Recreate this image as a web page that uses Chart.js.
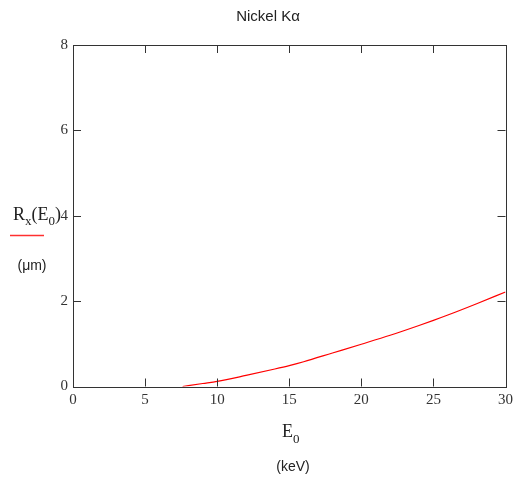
<!DOCTYPE html>
<html><head><meta charset="utf-8">
<script src="https://cdn.jsdelivr.net/npm/chart.js@4"></script>
<style>html,body{margin:0;padding:0;background:#fff}#wrap{width:518px;height:482px}</style>
</head><body><div id="wrap"><canvas id="c" width="518" height="482"></canvas></div>
<script>
const titleText = "Nickel Kα";
const energyKeV = [7.6, 8, 9, 10, 12, 14, 15, 16, 18, 20, 22, 24, 25, 26, 28, 30];
const rangeMicron = [0, 0.02, 0.07, 0.12, 0.26, 0.41, 0.49, 0.58, 0.785, 0.99, 1.20, 1.43, 1.55, 1.675, 1.94, 2.215];
const xTicks = [0, 5, 10, 15, 20, 25, 30];
const yTicks = [0, 2, 4, 6, 8];

const serif = "'Liberation Serif', 'DejaVu Serif', serif";
const sans = "'Liberation Sans', Arial, sans-serif";

const framePlugin = {
  id: 'frame',
  afterDraw(chart) {
    const ctx = chart.ctx, a = chart.chartArea;
    const xs = chart.scales.x, ys = chart.scales.y;
    ctx.save();
    ctx.strokeStyle = '#333';
    ctx.lineWidth = 1;
    ctx.strokeRect(Math.round(a.left) + 0.5, Math.round(a.top) + 0.5, Math.round(a.right - a.left), Math.round(a.bottom - a.top));
    const L = 8;
    ctx.beginPath();
    xTicks.forEach(v => {
      if (v === xTicks[0] || v === xTicks[xTicks.length - 1]) return;
      const px = Math.round(xs.getPixelForValue(v)) + 0.5;
      ctx.moveTo(px, a.bottom); ctx.lineTo(px, a.bottom - L);
      ctx.moveTo(px, a.top); ctx.lineTo(px, a.top + L);
    });
    yTicks.forEach(v => {
      if (v === yTicks[0] || v === yTicks[yTicks.length - 1]) return;
      const py = Math.round(ys.getPixelForValue(v)) + 0.5;
      ctx.moveTo(a.left, py); ctx.lineTo(a.left + L, py);
      ctx.moveTo(a.right, py); ctx.lineTo(a.right - L, py);
    });
    ctx.stroke();

    // title
    ctx.fillStyle = '#222';
    ctx.font = "15px " + sans;
    ctx.textAlign = 'center';
    ctx.textBaseline = 'middle';
    ctx.fillText(titleText, 268, 17);

    // y label R_x(E_0)
    ctx.textAlign = 'left';
    ctx.textBaseline = 'alphabetic';
    let x = 13;
    const base = 220;
    const big = "18px " + serif, sub = "13px " + serif;
    function put(t, f, dy) { ctx.font = f; ctx.fillText(t, x, base + dy); x += ctx.measureText(t).width; }
    put("R", big, 0); put("x", sub, 5); put("(E", big, 0); put("0", sub, 5); put(")", big, 0);
    ctx.strokeStyle = '#ff3030';
    ctx.lineWidth = 1.5;
    ctx.beginPath(); ctx.moveTo(10, 235.5); ctx.lineTo(44, 235.5); ctx.stroke();
    ctx.font = "14px " + sans;
    ctx.textAlign = 'center';
    ctx.textBaseline = 'middle';
    ctx.fillText("(μm)", 32, 266);

    // x label E_0
    ctx.textAlign = 'left';
    ctx.textBaseline = 'alphabetic';
    x = 282;
    const b2 = 437;
    ctx.font = big; ctx.fillText("E", x, b2); x += ctx.measureText("E").width;
    ctx.font = sub; ctx.fillText("0", x, b2 + 6);
    ctx.font = "14px " + sans;
    ctx.textAlign = 'center';
    ctx.textBaseline = 'middle';
    ctx.fillText("(keV)", 293, 467);
    ctx.restore();
  }
};

new Chart(document.getElementById('c'), {
  type: 'line',
  data: {
    datasets: [{
      data: energyKeV.map((e, i) => ({ x: e, y: rangeMicron[i] })),
      borderColor: '#ff0000',
      borderWidth: 1.2,
      pointRadius: 0,
      cubicInterpolationMode: 'monotone',
      fill: false
    }]
  },
  options: {
    responsive: false,
    animation: false,
    devicePixelRatio: 1,
    layout: { padding: { left: 0, top: 45, right: 12, bottom: 0 } },
    plugins: { legend: { display: false }, tooltip: { enabled: false } },
    scales: {
      x: {
        type: 'linear', min: 0, max: 30,
        afterFit(s) { s.height = 95.5; },
        afterBuildTicks(s) { s.ticks = xTicks.map(v => ({ value: v })); },
        grid: { display: false, drawTicks: false },
        border: { display: false },
        ticks: { padding: 5, color: '#333', font: { family: serif, size: 15 }, maxRotation: 0 }
      },
      y: {
        type: 'linear', min: 0, max: 8,
        afterFit(s) { s.width = 73; },
        afterBuildTicks(s) { s.ticks = yTicks.map(v => ({ value: v })); },
        grid: { display: false, drawTicks: false },
        border: { display: false },
        ticks: { padding: 5, color: '#333', font: { family: serif, size: 15 } }
      }
    }
  },
  plugins: [framePlugin]
});
</script>
</body></html>
